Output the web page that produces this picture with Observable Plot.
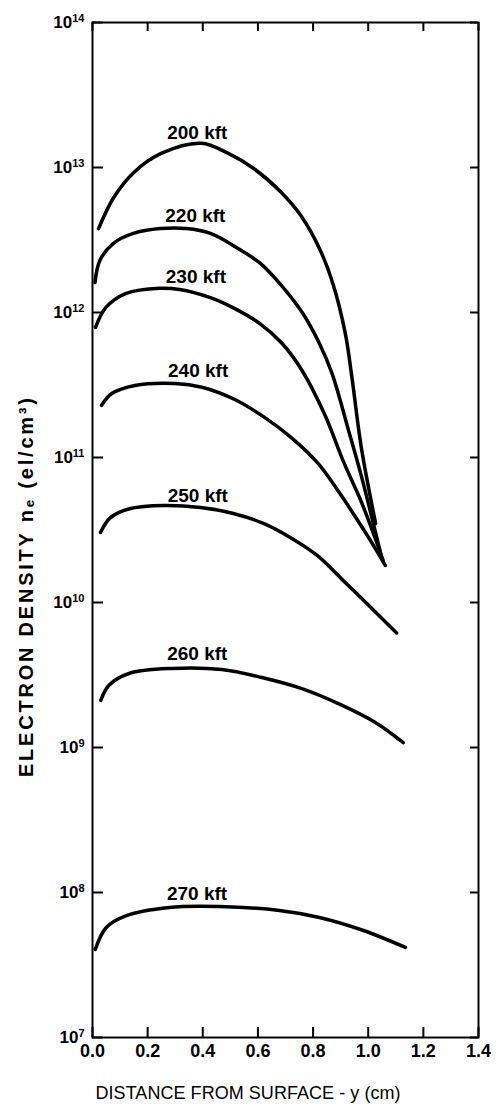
<!DOCTYPE html>
<html><head><meta charset="utf-8">
<script src="https://cdn.jsdelivr.net/npm/d3@7"></script>
<script src="https://cdn.jsdelivr.net/npm/@observablehq/plot@0.6"></script>
<style>
html,body{margin:0;padding:0;background:#fff;}
#chart svg{display:block;font-family:'Liberation Sans', Arial, sans-serif;}
</style>
</head><body><div id="chart"></div>
<script>
// Curve names
const altitudes = ["200 kft", "220 kft", "230 kft", "240 kft", "250 kft", "260 kft", "270 kft"];

// Distance from surface y (cm) and electron density n_e (el/cm^3)
const y200 = [0.022, 0.077, 0.15, 0.249, 0.395, 0.489, 0.586, 0.684, 0.755, 0.826, 0.872, 0.917, 0.941, 0.975, 1.027];
const n200 = [3.79e12, 6.21e12, 9.25e12, 1.25e13, 1.47e13, 1.26e13, 9.8e12, 6.76e12, 4.68e12, 2.69e12, 1.58e12, 7.16e11, 3.56e11, 1.17e11, 3.51e10];

const y220 = [0.009, 0.027, 0.075, 0.148, 0.246, 0.340, 0.428, 0.522, 0.609, 0.691, 0.763, 0.823, 0.869, 0.929, 0.974, 1.047];
const n220 = [1.61e12, 2.29e12, 2.99e12, 3.51e12, 3.79e12, 3.79e12, 3.51e12, 2.81e12, 2.18e12, 1.49e12, 9.84e11, 6.11e11, 3.79e11, 1.53e11, 7.59e10, 2.11e10];

const y230 = [0.011, 0.048, 0.12, 0.244, 0.316, 0.425, 0.509, 0.607, 0.688, 0.76, 0.841, 0.913, 0.973, 1.019, 1.054];
const n230 = [7.89e11, 1.08e12, 1.35e12, 1.47e12, 1.44e12, 1.27e12, 1.08e12, 8.39e11, 6.11e11, 3.98e11, 2.0e11, 9.1e10, 5.05e10, 2.99e10, 1.95e10];

const y240 = [0.033, 0.07, 0.154, 0.299, 0.397, 0.516, 0.624, 0.721, 0.818, 0.89, 0.962, 1.015, 1.062];
const n240 = [2.29e11, 2.76e11, 3.14e11, 3.24e11, 3.05e11, 2.51e11, 1.89e11, 1.37e11, 9.1e10, 5.92e10, 3.68e10, 2.55e10, 1.8e10];

const y250 = [0.029, 0.065, 0.138, 0.258, 0.392, 0.511, 0.62, 0.717, 0.815, 0.909, 0.995, 1.103];
const n250 = [3.04e10, 3.85e10, 4.45e10, 4.67e10, 4.52e10, 4.11e10, 3.51e10, 2.81e10, 2.11e10, 1.42e10, 9.84e9, 6.17e9];

const y260 = [0.03, 0.059, 0.132, 0.288, 0.469, 0.614, 0.759, 0.892, 1.026, 1.127];
const n260 = [2.11e9, 2.68e9, 3.24e9, 3.51e9, 3.45e9, 3.04e9, 2.55e9, 2.01e9, 1.49e9, 1.08e9];

const y270 = [0.01, 0.05, 0.123, 0.279, 0.461, 0.678, 0.823, 0.983, 1.135];
const n270 = [4.05e7, 5.74e7, 6.93e7, 7.89e7, 8.0e7, 7.52e7, 6.73e7, 5.47e7, 4.18e7];

// Label anchor positions (data units)
const labelX = [0.38, 0.373, 0.375, 0.383, 0.382, 0.38, 0.379];
const labelN = [1.74e13, 4.67e12, 1.77e12, 3.98e11, 5.47e10, 4.45e9, 9.84e7];

// Ticks
const xTicks = [0, 0.2, 0.4, 0.6, 0.8, 1.0, 1.2, 1.4];
const yTicks = [1e7, 1e8, 1e9, 1e10, 1e11, 1e12, 1e13, 1e14];

const xTitle = "DISTANCE FROM SURFACE - y (cm)";
const yTitle = "ELECTRON DENSITY n\u2091 (el/cm\u00B3)";

const series = [[y200, n200], [y220, n220], [y230, n230], [y240, n240], [y250, n250], [y260, n260], [y270, n270]];
const rows = series.flatMap(([ys, ns], i) => ys.map((y, j) => ({alt: altitudes[i], x: y, n: ns[j]})));
const labels = altitudes.map((a, i) => ({alt: a, x: labelX[i], n: labelN[i]}));

// "10|13" -> rendered afterwards as 10 with a raised exponent
const expFmt = d => "10|" + Math.round(Math.log10(d));

const chart = Plot.plot({
  width: 498,
  height: 1112,
  marginTop: 22,
  marginBottom: 75,
  marginLeft: 92,
  marginRight: 20,
  x: {domain: [0, 1.4]},
  y: {type: "log", domain: [1e7, 1e14]},
  marks: [
    Plot.frame({stroke: "black", strokeWidth: 2}),
    // inward ticks on all four sides
    Plot.tickY(yTicks, {y: d => d, insetRight: 375, stroke: "black", strokeWidth: 2}),
    Plot.tickY(yTicks, {y: d => d, insetLeft: 378, stroke: "black", strokeWidth: 2}),
    Plot.tickX(xTicks, {x: d => d, insetTop: 1005, stroke: "black", strokeWidth: 2}),
    Plot.tickX(xTicks, {x: d => d, insetBottom: 1006, stroke: "black", strokeWidth: 2}),
    // tick labels
    Plot.axisX({anchor: "bottom", ticks: xTicks, tickSize: 0, tickPadding: 7, tickFormat: d3.format(".1f"), fontSize: 18, fontWeight: "bold", label: null}),
    Plot.axisY({anchor: "left", ticks: yTicks, tickSize: 0, tickPadding: 8, tickFormat: expFmt, fontSize: 17, fontWeight: "bold", label: null}),
    // curves
    Plot.line(rows, {x: "x", y: "n", z: "alt", stroke: "black", strokeWidth: 3.5, curve: "catmull-rom", strokeLinecap: "round", strokeLinejoin: "round"}),
    Plot.text(labels, {x: "x", y: "n", text: "alt", fontSize: 19, fontWeight: "bold"}),
    // axis titles
    Plot.text([xTitle], {frameAnchor: "bottom", textAnchor: "start", dx: -190, dy: 61, fontSize: 18, className: "xtitle"}),
    Plot.text([yTitle], {frameAnchor: "left", textAnchor: "start", rotate: -90, dx: -66, dy: 247, fontSize: 20, fontWeight: "bold", className: "ytitle"})
  ]
});

document.getElementById("chart").appendChild(chart);
d3.select(chart).selectAll(".xtitle text").attr("textLength", 305).attr("lengthAdjust", "spacing");
d3.select(chart).selectAll(".ytitle text").attr("textLength", 379).attr("lengthAdjust", "spacing");
d3.select(chart).selectAll("text").each(function() {
  const m = /^10\|(\d+)$/.exec(this.textContent);
  if (!m) return;
  const t = d3.select(this);
  t.text("10");
  t.append("tspan").attr("dy", "-0.55em").attr("font-size", "11px").text(m[1]);
});
</script>
</body></html>
